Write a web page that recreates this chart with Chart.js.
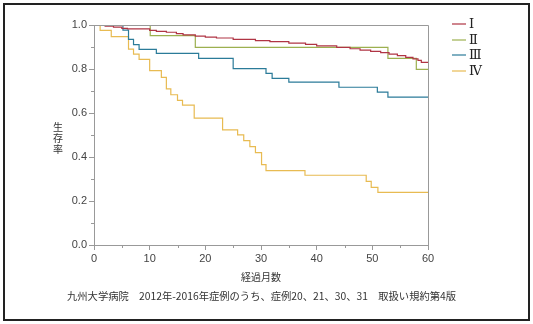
<!DOCTYPE html>
<html>
<head>
<meta charset="utf-8">
<script src="https://cdn.jsdelivr.net/npm/chart.js@4"></script>
<style>
  html, body { margin: 0; padding: 0; background: #fff; }
  #wrap { width: 533px; height: 324px; }
</style>
</head>
<body>
<div id="wrap"><canvas id="kmChart" width="533" height="324"></canvas></div>
<script>
// survival curves (month where the step happens, survival after it)
let monthsI = [0, 2, 3.5, 5, 6, 10, 11.2, 13, 14.8, 16, 18.2, 20, 22, 25, 29, 31.6, 35, 38, 40, 43.6, 46, 47.8, 49.7, 51.5, 53, 54.5, 56, 57.3, 58.2, 58.8, 60];
let survI  = [1.0, 0.995, 0.99, 0.985, 0.982, 0.976, 0.971, 0.967, 0.961, 0.955, 0.949, 0.945, 0.941, 0.935, 0.929, 0.924, 0.918, 0.912, 0.905, 0.898, 0.892, 0.886, 0.88, 0.874, 0.868, 0.861, 0.853, 0.846, 0.839, 0.83, 0.83];

let monthsII = [0, 10.1, 18.2, 52.8, 57.9, 60];
let survII   = [1.0, 0.952, 0.898, 0.848, 0.798, 0.798];

let monthsIII = [0, 5.2, 6.2, 7.1, 8.1, 11.2, 18.8, 25, 30.9, 32, 35, 44, 50.9, 52.8, 60];
let survIII   = [1.0, 0.977, 0.935, 0.911, 0.889, 0.871, 0.848, 0.802, 0.78, 0.757, 0.74, 0.717, 0.695, 0.672, 0.672];

let monthsIV = [0, 1.1, 3.1, 6.2, 7.1, 8.1, 10, 12.1, 13, 13.8, 15, 15.9, 18, 23.1, 25.8, 26.9, 28, 29, 30.1, 30.9, 37.9, 48.9, 49.8, 51, 60];
let survIV   = [1.0, 0.976, 0.947, 0.89, 0.868, 0.844, 0.793, 0.762, 0.71, 0.683, 0.657, 0.636, 0.577, 0.523, 0.501, 0.474, 0.447, 0.42, 0.365, 0.338, 0.317, 0.289, 0.262, 0.239, 0.239];

let stageLabels = ['Ⅰ', 'Ⅱ', 'Ⅲ', 'Ⅳ'];
let stageColors = ['#b03444', '#9cb04f', '#2b7b99', '#e8bb52'];

let xTitle = '経過月数';
let yTitle = '生存率';
let footnote = '九州大学病院　2012年-2016年症例のうち、症例20、21、30、31　取扱い規約第4版';

function toPoints(xs, ys) {
    return xs.map((x, i) => ({x: x, y: ys[i]}));
}

let allMonths = [monthsI, monthsII, monthsIII, monthsIV];
let allSurv = [survI, survII, survIII, survIV];

// 'before' in Chart.js = go across at the old value, then drop
let datasets = stageLabels.map((lab, i) => ({
    label: lab,
    data: toPoints(allMonths[i], allSurv[i]),
    borderColor: stageColors[i],
    backgroundColor: stageColors[i],
    borderWidth: 1.2,
    stepped: 'before',
    pointRadius: 0,
    fill: false
}));

// frame, minor ticks, box, legend and titles
let decorPlugin = {
    id: 'decor',
    beforeDraw(chart) {
        let c = chart.ctx;
        c.save();
        c.fillStyle = '#fff';
        c.fillRect(0, 0, chart.width, chart.height);
        c.strokeStyle = '#222';
        c.lineWidth = 2;
        c.strokeRect(4, 4, 525, 316);
        c.restore();
    },
    afterDraw(chart) {
        let c = chart.ctx;
        let a = chart.chartArea;
        let xs = chart.scales.x, ys = chart.scales.y;
        c.save();
        c.strokeStyle = '#999';
        c.lineWidth = 1;
        // top and right side of the plot box
        c.beginPath();
        c.moveTo(a.left, a.top + 0.5);
        c.lineTo(a.right + 0.5, a.top + 0.5);
        c.lineTo(a.right + 0.5, a.bottom);
        c.stroke();
        // minor ticks
        c.beginPath();
        for (let m = 5; m < 60; m += 10) {
            let px = Math.round(xs.getPixelForValue(m)) + 0.5;
            c.moveTo(px, a.bottom);
            c.lineTo(px, a.bottom + 3);
        }
        for (let v = 0.1; v < 1; v += 0.2) {
            let py = Math.round(ys.getPixelForValue(v)) + 0.5;
            c.moveTo(a.left - 3, py);
            c.lineTo(a.left, py);
        }
        c.stroke();

        // legend
        c.font = '13px "Liberation Serif", "DejaVu Serif", serif';
        c.textBaseline = 'middle';
        c.textAlign = 'left';
        let ly = [24, 40, 55, 71];
        stageLabels.forEach((lab, i) => {
            c.strokeStyle = stageColors[i];
            c.lineWidth = 1.2;
            c.beginPath();
            c.moveTo(452, ly[i]);
            c.lineTo(466, ly[i]);
            c.stroke();
            c.fillStyle = '#222';
            c.fillText(lab, 469, ly[i] + 1);
        });

        // axis titles and note
        c.fillStyle = '#333';
        c.font = '10px "Noto Sans CJK JP", sans-serif';
        c.textAlign = 'center';
        for (let k = 0; k < yTitle.length; k++) {
            c.fillText(yTitle[k], 58, 127 + k * 11);
        }
        c.fillText(xTitle, (a.left + a.right) / 2, 277);
        c.font = '10.3px "Noto Sans CJK JP", sans-serif';
        c.textAlign = 'left';
        c.fillText(footnote, 67, 296);
        c.restore();
    }
};

let kmChart = new Chart(document.getElementById('kmChart').getContext('2d'), {
    type: 'line',
    data: { datasets: datasets },
    options: {
        responsive: false,
        animation: false,
        layout: { padding: { left: 0, top: 25, right: 105, bottom: 0 } },
        plugins: { legend: { display: false }, tooltip: { enabled: false } },
        scales: {
            x: {
                type: 'linear',
                min: 0, max: 60,
                ticks: { stepSize: 10, color: '#444', padding: 2, maxRotation: 0,
                         font: { family: '"Liberation Sans", Arial, sans-serif', size: 11 } },
                grid: { drawOnChartArea: false, tickLength: 5, color: '#999' },
                border: { color: '#999' },
                afterFit(scale) { scale.height = 79; }
            },
            y: {
                min: 0, max: 1,
                ticks: { stepSize: 0.2, color: '#444', padding: 2,
                         callback: v => v.toFixed(1),
                         font: { family: '"Liberation Sans", Arial, sans-serif', size: 11 } },
                grid: { drawOnChartArea: false, tickLength: 5, color: '#999' },
                border: { color: '#999' },
                afterFit(scale) { scale.width = 94; }
            }
        }
    },
    plugins: [decorPlugin]
});
</script>
</body>
</html>
